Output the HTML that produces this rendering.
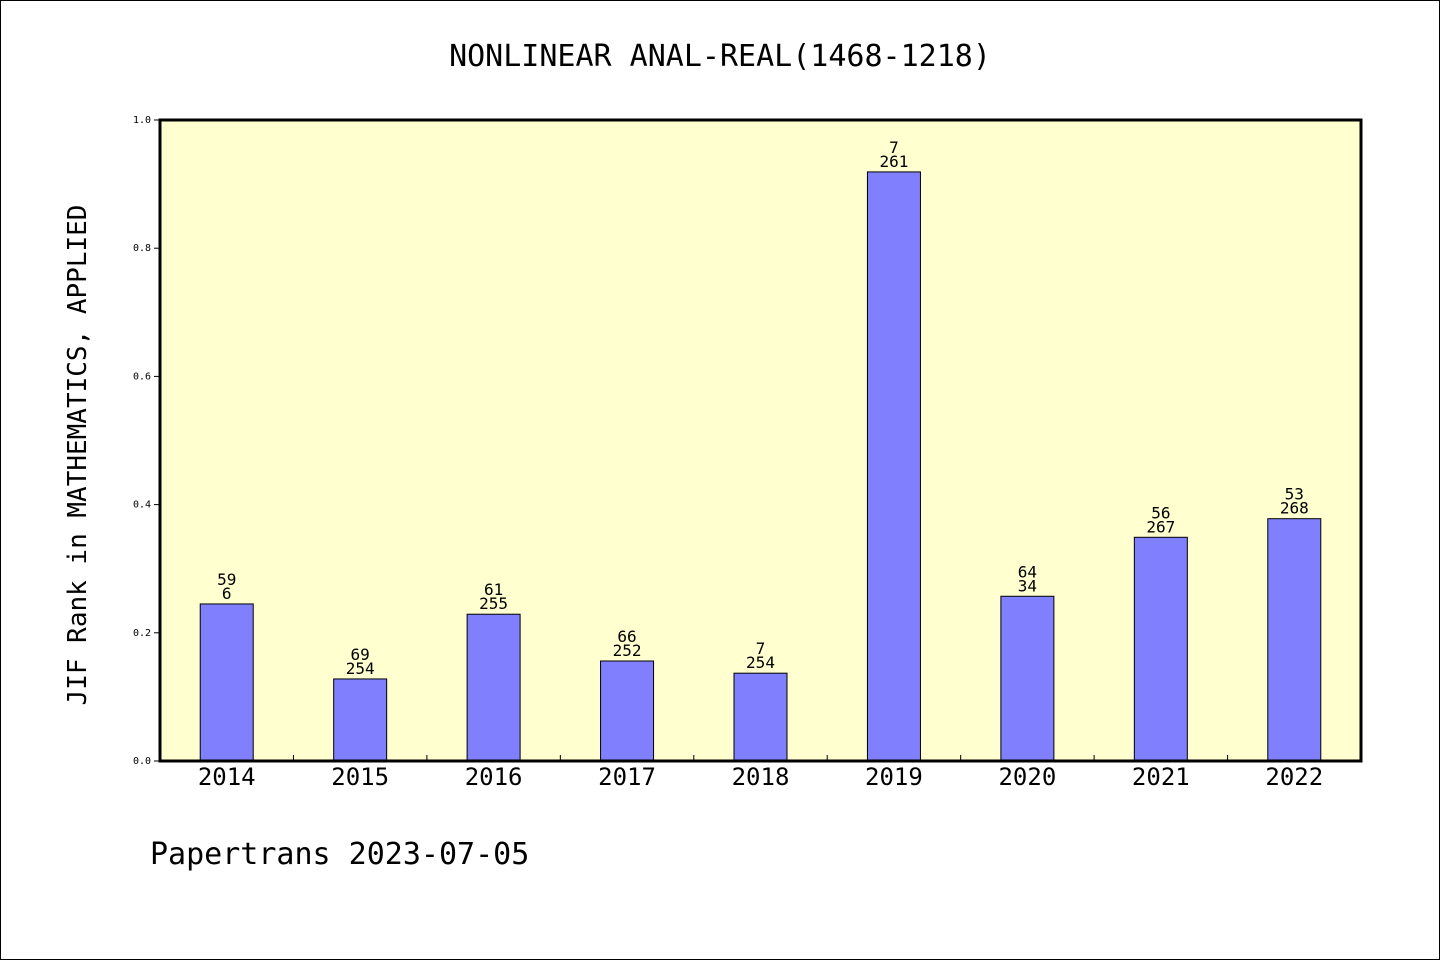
<!DOCTYPE html>
<html><head><meta charset="utf-8"><style>
html,body{margin:0;padding:0;background:#fff}
svg{display:block}
text{font-family:"WenQuanYi Zen Hei","DejaVu Sans Mono",sans-serif;fill:#000}
</style></head><body>
<svg id="chart" width="1440" height="960">
<rect x="0.5" y="0.5" width="1439" height="959" fill="#fff" stroke="#000"/>
<text x="720" y="66" font-size="30" text-anchor="middle">NONLINEAR ANAL-REAL(1468-1218)</text>
<rect x="160" y="120" width="1201" height="641" fill="#ffffd0"/>
<g id="bars"></g>
<g id="axes"></g>
<rect x="160" y="120" width="1201" height="641" fill="none" stroke="#000" stroke-width="3"/>
<text transform="translate(86,455) rotate(-90)" font-size="26" text-anchor="middle">JIF Rank in MATHEMATICS, APPLIED</text>
<text x="150" y="864" font-size="30">Papertrans 2023-07-05</text>
</svg>
<script>
const categories=["2014","2015","2016","2017","2018","2019","2020","2021","2022"];
const values=[0.245,0.128,0.229,0.156,0.137,0.919,0.257,0.349,0.378];
const topLabels=["59","69","61","66","7","7","64","56","53"];
const bottomLabels=["6","254","255","252","254","261","34","267","268"];
const yTicks=[0,0.2,0.4,0.6,0.8,1.0];
const yTickLabels=["0.0","0.2","0.4","0.6","0.8","1.0"];
const NS="http://www.w3.org/2000/svg";
const L=160,R=1361,T=120,B=761;
const step=(R-L)/categories.length;
const xc=i=>L+step*(i+0.5);
const y=v=>B-v*(B-T);
function mk(tag,attrs,parent,txt){const e=document.createElementNS(NS,tag);for(const k in attrs)e.setAttribute(k,attrs[k]);if(txt!==undefined)e.textContent=txt;parent.appendChild(e);return e;}
const bars=document.getElementById('bars'),axes=document.getElementById('axes');
categories.forEach((c,i)=>{
  const b=mk('rect',{x:xc(i)-26.5,y:y(values[i]),width:53,height:B-y(values[i]),fill:'#8080ff',stroke:'#000','stroke-width':1},bars);
  
  
  const t1=mk('text',{x:xc(i),y:y(values[i])-19,'font-size':16,'text-anchor':'middle'},bars,topLabels[i]);
  
  
  const t2=mk('text',{x:xc(i),y:y(values[i])-5,'font-size':16,'text-anchor':'middle'},bars,bottomLabels[i]);
  
  
  const xl=mk('text',{x:xc(i),y:785,'font-size':24,'text-anchor':'middle'},axes,c);
  
  
  if(i>0){const tk=mk('line',{x1:L+step*i,x2:L+step*i,y1:B,y2:B-6,stroke:'#000'},axes);
  
  }
});
yTicks.forEach((v,i)=>{
  const tk=mk('line',{x1:L-6,x2:L,y1:y(v),y2:y(v),stroke:'#000'},axes);
  
  
  const tl=mk('text',{x:151,y:y(v)+3,'font-size':10,'font-family':'Liberation Sans, sans-serif','text-anchor':'end'},axes,yTickLabels[i]);
  
  
});
</script>
</body></html>
